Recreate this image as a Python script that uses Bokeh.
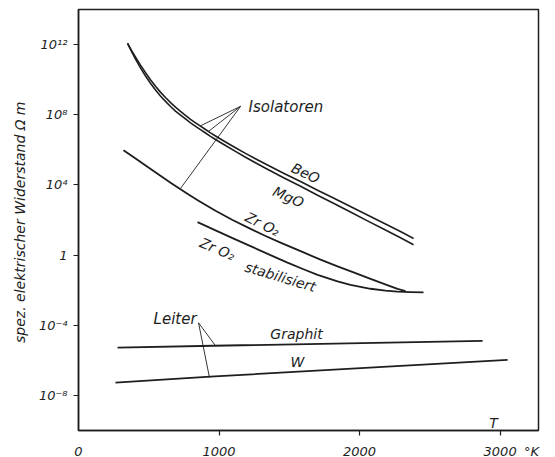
import numpy as np
from bokeh.plotting import figure
from bokeh.models import FixedTicker, CustomJSTickFormatter, Label, Range1d
from bokeh.embed import file_html
from bokeh.resources import INLINE

# ---- data (temperature in K, log10 of specific resistance in Ohm m) ----
beo_T = [349, 377, 406, 441, 477, 512, 548, 583, 619, 655, 690, 726, 761, 797, 833,
         868, 904, 939, 975, 1010, 1046, 1117, 1188, 1259, 1331, 1459, 1580, 1701,
         1814, 1935, 2056, 2170, 2291, 2384]
beo_log = [12.07, 11.67, 11.28, 10.83, 10.40, 10.00, 9.63, 9.29, 8.98, 8.69, 8.43,
           8.19, 7.96, 7.74, 7.54, 7.35, 7.16, 6.97, 6.79, 6.62, 6.45, 6.12, 5.80,
           5.49, 5.19, 4.67, 4.19, 3.70, 3.25, 2.77, 2.28, 1.83, 1.34, 0.95]

mgo_T = [349, 377, 406, 441, 477, 512, 548, 583, 619, 655, 690, 726, 761, 797, 833,
         868, 904, 939, 975, 1010, 1046, 1117, 1188, 1259, 1331, 1459, 1580, 1701,
         1814, 1935, 2056, 2170, 2291, 2384]
mgo_log = [12.07, 11.61, 11.17, 10.67, 10.21, 9.80, 9.41, 9.07, 8.76, 8.47, 8.21,
           7.98, 7.76, 7.54, 7.34, 7.15, 6.96, 6.77, 6.59, 6.42, 6.25, 5.91, 5.58,
           5.26, 4.95, 4.41, 3.92, 3.41, 2.95, 2.46, 1.95, 1.49, 0.99, 0.59]

zro2_T = [320, 406, 498, 583, 655, 712, 783, 854, 975, 1096, 1210, 1331, 1437,
          1601, 1722, 1843, 1957, 2078, 2192, 2270, 2327]
zro2_log = [5.98, 5.50, 4.99, 4.52, 4.13, 3.82, 3.45, 3.10, 2.53, 2.00, 1.55, 1.09,
            0.71, 0.15, -0.26, -0.64, -0.99, -1.36, -1.70, -1.93, -2.06]

zro2s_T = [847, 975, 1096, 1224, 1366, 1487, 1601, 1701, 1843, 1935, 2078, 2184,
           2270, 2362, 2455]
zro2s_log = [1.88, 1.41, 0.97, 0.51, 0.00, -0.43, -0.81, -1.13, -1.50, -1.70, -1.92,
             -2.03, -2.08, -2.11, -2.13]

graphit_T = [278, 961, 2875]
graphit_log = [-5.28, -5.17, -4.89]

w_T = [263, 939, 3053]
w_log = [-7.27, -6.93, -5.97]

x_ticks = [0, 1000, 2000, 3000]
x_unit_pos = 3223          # where the unit "°K" is written on the x axis
y_ticks = [1e-8, 1e-4, 1, 1e4, 1e8, 1e12]

# leader lines of the annotations: apex -> curve
iso_x0 = [1153, 1153, 1153]
iso_y0 = [8.48, 8.48, 8.48]
iso_x1 = [868, 925, 726]
iso_y1 = [7.37, 7.05, 3.80]

lei_x0 = [854, 854]
lei_y0 = [-3.86, -3.86]
lei_x1 = [975, 932]
lei_y1 = [-5.17, -6.99]

INK = "#1e1e1e"
FONT = "DejaVu Sans"

def pw(a):
    return 10.0 ** np.asarray(a, dtype=float)

p = figure(frame_width=460, frame_height=421, x_range=Range1d(0, 3273),
           y_range=Range1d(1e-10, 1e14), y_axis_type="log",
           output_backend="svg", toolbar_location=None,
           min_border_left=78, min_border_right=15,
           min_border_top=9, min_border_bottom=27)

p.background_fill_color = "white"
p.border_fill_color = "white"
p.grid.visible = False
p.outline_line_color = INK
p.outline_line_width = 1.5

for ax in (p.xaxis[0], p.yaxis[0]):
    ax.axis_line_color = INK
    ax.axis_line_width = 1.5
    ax.major_tick_line_color = INK
    ax.major_tick_line_width = 1.2
    ax.minor_tick_line_color = INK
    ax.minor_tick_line_width = 1.2
    ax.major_tick_out = 5
    ax.major_tick_in = 0
    ax.minor_tick_out = 0
    ax.minor_tick_in = 0
    ax.major_label_text_font = FONT
    ax.major_label_text_font_style = "italic"
    ax.major_label_text_font_size = "13px"
    ax.major_label_text_color = INK
    ax.major_label_standoff = 6

# x axis: labels (incl. the unit) at the major positions, tick marks drawn as minor ticks
p.xaxis.ticker = FixedTicker(ticks=x_ticks + [x_unit_pos], minor_ticks=x_ticks[1:])
p.xaxis.major_tick_out = 0
p.xaxis.minor_tick_out = 5
p.xaxis.major_label_standoff = 8
p.xaxis.major_label_overrides = {x_unit_pos: "\u00b0K"}

p.yaxis.ticker = FixedTicker(ticks=y_ticks)
p.yaxis.formatter = CustomJSTickFormatter(code="""
const e = Math.round(Math.log10(tick));
if (e == 0) { return "1"; }
const sup = {"0":"\u2070","1":"\u00b9","2":"\u00b2","3":"\u00b3","4":"\u2074",
             "5":"\u2075","6":"\u2076","7":"\u2077","8":"\u2078","9":"\u2079","-":"\u207b"};
return "10" + String(e).split("").map(c => sup[c]).join("");
""")
p.yaxis.axis_label = "spez. elektrischer Widerstand  \u03a9 m"
p.yaxis.axis_label_text_font = FONT
p.yaxis.axis_label_text_font_style = "italic"
p.yaxis.axis_label_text_font_size = "14px"
p.yaxis.axis_label_text_color = INK
p.yaxis.axis_label_standoff = 8

# curves
for xs, ys, lw in ((beo_T, beo_log, 1.6), (mgo_T, mgo_log, 1.6),
                   (zro2_T, zro2_log, 1.8), (zro2s_T, zro2s_log, 1.8),
                   (graphit_T, graphit_log, 1.8), (w_T, w_log, 1.8)):
    p.line(xs, pw(ys), line_color=INK, line_width=lw, line_join="round")

# leader lines
p.segment(iso_x0, pw(iso_y0), iso_x1, pw(iso_y1), line_color=INK, line_width=0.9)
p.segment(lei_x0, pw(lei_y0), lei_x1, pw(lei_y1), line_color=INK, line_width=0.9)

def lab(x, y, text, angle=0.0, size="14px", align="center", baseline="middle"):
    p.add_layout(Label(x=x, y=10.0 ** y, text=text, angle=angle,
                       text_font=FONT, text_font_style="italic",
                       text_font_size=size, text_color=INK,
                       text_align=align, text_baseline=baseline))

lab(1210, 8.43, "Isolatoren", size="15px", align="left")
lab(534, -3.63, "Leiter", size="15px", align="left")
lab(1616, 4.67, "BeO", angle=-0.44)
lab(1494, 3.31, "MgO", angle=-0.42)
lab(1309, 1.77, "Zr O\u2082", angle=-0.46)
lab(989, 0.35, "Zr O\u2082", angle=-0.40)
lab(1437, -1.24, "stabilisiert", angle=-0.29)
lab(1551, -4.49, "Graphit")
lab(1558, -6.08, "W")
lab(2953, -9.55, "T")

open("out.html", "w", encoding="utf-8").write(file_html(p, INLINE))
